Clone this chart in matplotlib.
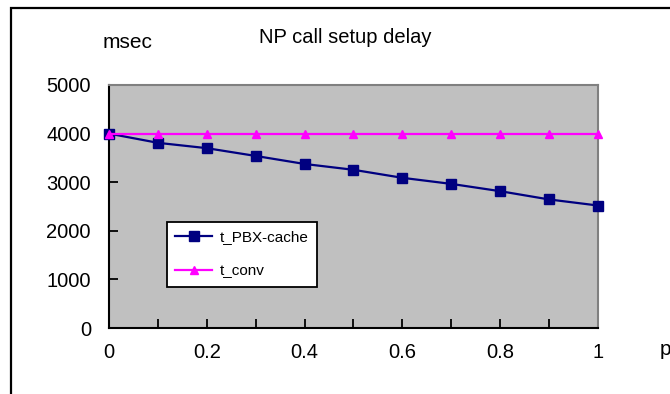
import numpy as np
import matplotlib
matplotlib.use("Agg")
import matplotlib.pyplot as plt
from matplotlib.patches import Rectangle

plt.rcParams["font.family"] = ["Liberation Sans", "DejaVu Sans"]

# values
p_values = [0.0, 0.1, 0.2, 0.3, 0.4, 0.5, 0.6, 0.7, 0.8, 0.9, 1.0]
t_pbx_cache = [4000, 3810, 3700, 3540, 3375, 3255, 3090, 2965, 2815, 2645, 2520]
t_conv = [4000] * 11

x_ticks = [0, 0.2, 0.4, 0.6, 0.8, 1]
x_tick_labels = ["0", "0.2", "0.4", "0.6", "0.8", "1"]
y_ticks = [0, 1000, 2000, 3000, 4000, 5000]
y_tick_labels = ["0", "1000", "2000", "3000", "4000", "5000"]

fig = plt.figure(figsize=(6.7, 3.94), dpi=100)
ax = fig.add_axes([0.1627, 0.1675, 0.7298, 0.6168])
ax.set_facecolor("#C0C0C0")

ax.plot(p_values, t_pbx_cache, color="#000080", lw=1.6, marker="s",
        markersize=7.5, label="t_PBX-cache", clip_on=False, zorder=3)
ax.plot(p_values, t_conv, color="#FF00FF", lw=1.6, marker="^",
        markersize=5.5, label="t_conv", clip_on=False, zorder=4)

ax.set_xlim(0, 1)
ax.set_ylim(0, 5000)
ax.set_xticks(x_ticks)
ax.set_xticklabels(x_tick_labels)
ax.set_xticks(np.arange(0.1, 1.0, 0.2), minor=True)
ax.set_yticks(y_ticks)
ax.set_yticklabels(y_tick_labels)
ax.tick_params(axis="both", which="both", direction="in", length=6.5,
               width=1.3, labelsize=14.5)
ax.tick_params(axis="y", pad=13)
ax.tick_params(axis="x", pad=11)
ax.tick_params(top=False, right=False)

for side in ("left", "bottom"):
    ax.spines[side].set_color("black")
    ax.spines[side].set_linewidth(1.5)
for side in ("top", "right"):
    ax.spines[side].set_color("#808080")
    ax.spines[side].set_linewidth(1.5)

leg = ax.legend(loc="upper left", bbox_to_anchor=(0.1186, 0.436),
                borderaxespad=0, fontsize=11, fancybox=False,
                edgecolor="black", framealpha=1, handlelength=2.4,
                labelspacing=1.3, borderpad=0.55, handletextpad=0.5)
leg.get_frame().set_linewidth(1.3)

fig.text(0.515, 0.906, "NP call setup delay", ha="center", va="center",
         fontsize=14.5)
fig.text(0.19, 0.891, "msec", ha="center", va="center", fontsize=15)
fig.text(0.985, 0.112, "p", ha="left", va="center", fontsize=15)

fig.patches.append(Rectangle((0.0164, -0.05), 1.1, 0.9797 + 0.05,
                             transform=fig.transFigure, fill=False,
                             edgecolor="black", lw=1.6))

fig.savefig("out.png", dpi=100)
